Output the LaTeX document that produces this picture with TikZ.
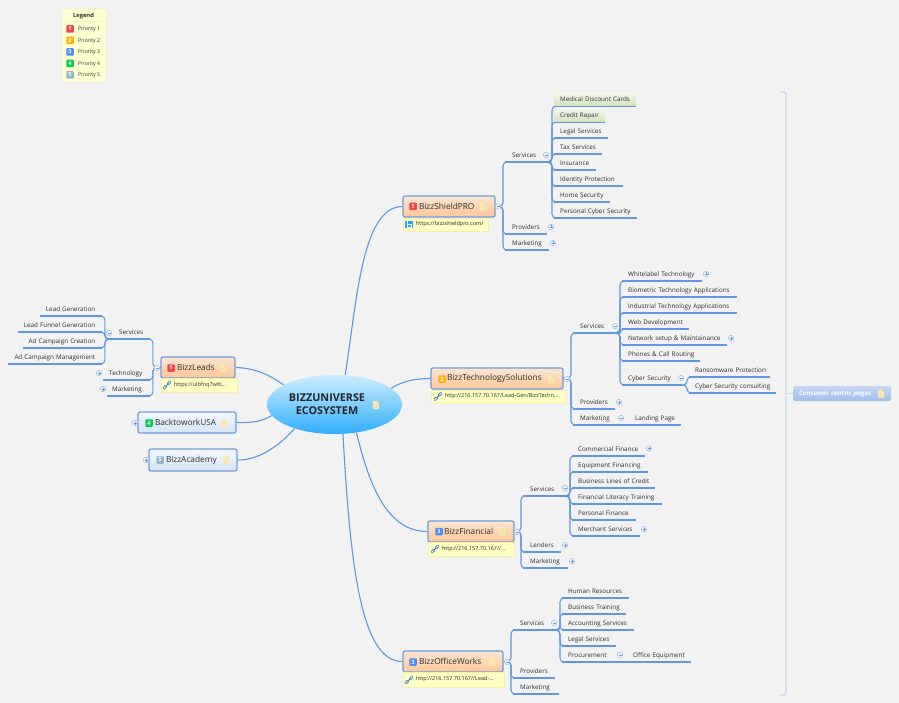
\documentclass[tikz,border=0pt]{standalone}
\usepackage{fontspec}
\setmainfont{Open Sans}
\usetikzlibrary{calc,shapes.geometric}
\pgfdeclarelayer{bg}
\pgfsetlayers{bg,main}
\definecolor{pageb}{HTML}{F2F2F2}
\definecolor{ink}{HTML}{2E2E2E}
\definecolor{wire}{HTML}{5F98DE}
\definecolor{nborder}{HTML}{6E9EDB}
\definecolor{exb}{HTML}{A9C4E8}
\definecolor{exf}{HTML}{EEF3FA}
\definecolor{exm}{HTML}{6F9BD2}
\definecolor{pone}{HTML}{F0484D}
\definecolor{ptwo}{HTML}{FDB10B}
\definecolor{pthree}{HTML}{4F8DF5}
\definecolor{pfour}{HTML}{05D050}
\definecolor{pfive}{HTML}{8FB8C6}
\definecolor{notey}{HTML}{FDEBB4}
\definecolor{noteline}{HTML}{F5DB96}
\definecolor{linkb}{HTML}{FFFFC4}
\definecolor{linkbd}{HTML}{F5EFB0}
\definecolor{legb}{HTML}{FFFFD2}
\definecolor{legbd}{HTML}{F3EFC8}
\definecolor{chain}{HTML}{3B7DC9}
\definecolor{brk}{HTML}{C9D9EA}
\tikzset{
 topic/.style={inner sep=0pt,text height=8.7pt,text depth=4.3pt,anchor=south west,font=\fontsize{6.3}{8}\selectfont,text=ink},
 uline/.style={draw=wire,line width=1.35pt},
 conn/.style={draw=wire,line width=1.1pt,rounded corners=4pt},
 corew/.style={draw=wire,line width=1.1pt},
 mainbox/.style={rectangle,rounded corners=2pt,draw=nborder,line width=1.2pt,inner sep=0pt,font=\fontsize{8.3}{10}\selectfont,text=ink},
 hot/.style={top color={rgb,255:red,251;green,229;blue,211},bottom color={rgb,255:red,253;green,198;blue,152}},
 cool/.style={top color={rgb,255:red,243;green,247;blue,252},bottom color={rgb,255:red,214;green,227;blue,245}},
 linkbox/.style={rectangle,fill=linkb,draw=linkbd,line width=.5pt,inner sep=0pt,font=\fontsize{5.5}{7}\selectfont,text=ink},
 pri/.style={rectangle,rounded corners=.8pt,minimum size=7.5pt,inner sep=0pt,text=white,font=\fontsize{5.6}{6}\bfseries\selectfont},
 expander/.style={circle,draw=exb,fill=exf,line width=.6pt,minimum size=5.5pt,inner sep=0pt},
 hilite/.style={top color={rgb,255:red,244;green,246;blue,238},bottom color={rgb,255:red,212;green,227;blue,187}},
}
\newcount\autoid
% topic, left aligned: [style]{name}{x1}{x2}{y}{text x}{text}
\newcommand\tp[7][]{\pgfmathsetmacro\padv{#6-#3}\pgfmathsetmacro\wv{#4-#3}%
 \node[topic,text width=\wv pt,align=left,#1] (#2) at (#3,#5) {\hspace*{\padv pt}\mbox{#7}};
 \begin{pgfonlayer}{bg}\draw[uline] (#2.south west) -- (#2.south east);\end{pgfonlayer}}
% topic, right aligned: {name}{x1}{x2}{y}{text right x}{text}
\newcommand\tpr[6]{\pgfmathsetmacro\padv{#3-#5}\pgfmathsetmacro\wv{#3-#2}%
 \node[topic,text width=\wv pt,align=right] (#1) at (#2,#4) {\mbox{#6}\hspace*{\padv pt}};
 \begin{pgfonlayer}{bg}\draw[uline] (#1.south west) -- (#1.south east);\end{pgfonlayer}}
\newcommand\brr[2]{\begin{pgfonlayer}{bg}\draw[conn] (#1) -| ($(#2)+(-2,0)$) -- ($(#2)+(6,0)$);\end{pgfonlayer}}
\newcommand\brl[2]{\begin{pgfonlayer}{bg}\draw[conn] (#1) -| ($(#2)+(2.5,0)$) -- ($(#2)+(-6,0)$);\end{pgfonlayer}}
\newcommand\exminus[2]{\global\advance\autoid by 1
 \node[expander] (ex\the\autoid) at (#1,#2) {};
 \draw[exm,line width=.5pt] (#1-1.5,#2) -- (#1+1.5,#2);}
\newcommand\explus[2]{\global\advance\autoid by 1
 \node[expander] (ex\the\autoid) at (#1,#2) {};
 \draw[exm,line width=.5pt] (#1-1.5,#2) -- (#1+1.5,#2) (#1,#2-1.5) -- (#1,#2+1.5);}
\newcommand\noteic[2]{\fill[notey] (#1-3,#2-4) -- (#1+1.2,#2-4) -- (#1+3,#2-2.2) -- (#1+3,#2+4) -- (#1-3,#2+4) -- cycle;
 \draw[noteline,line width=.35pt] (#1+1.2,#2-4) -- (#1+1.2,#2-2.2) -- (#1+3,#2-2.2) (#1-1.8,#2) -- (#1+1.8,#2) (#1-1.8,#2+1.8) -- (#1+1.8,#2+1.8);}
\newcommand\chainic[2]{\draw[chain,line width=2.7pt,line cap=round] (#1-3.2,#2+3.2) -- (#1-1,#2+1) (#1+1,#2-1) -- (#1+3.2,#2-3.2);
 \draw[linkb,line width=1pt,line cap=round] (#1-3.2,#2+3.2) -- (#1-1,#2+1) (#1+1,#2-1) -- (#1+3.2,#2-3.2);
 \draw[chain,line width=.9pt] (#1-1.4,#2+1.4) -- (#1+1.4,#2-1.4);}
% boxed main topic: [style]{name}{x1}{x2}{y1}{y2}{text x}{text}
\newcommand\mainb[8][]{\pgfmathsetmacro\padv{#7-#3}\pgfmathsetmacro\wv{#4-#3}\pgfmathsetmacro\hv{#6-#5}%
 \node[mainbox,#1,text width=\wv pt,minimum height=\hv pt,align=left] (#2) at ({(#3+#4)/2},{(#5+#6)/2}) {\hspace*{\padv pt}\mbox{#8}};}
\newcommand\linkb[7]{\pgfmathsetmacro\padv{#6-#2}\pgfmathsetmacro\wv{#3-#2}\pgfmathsetmacro\hv{#5-#4}%
 \node[linkbox,text width=\wv pt,minimum height=\hv pt,align=left] (#1) at ({(#2+#3)/2},{(#4+#5)/2}) {\hspace*{\padv pt}\mbox{#7}};}
\begin{document}
\begin{tikzpicture}[x=1pt,y=-1pt]
\useasboundingbox (0,0) rectangle (899,703);
\begin{pgfonlayer}{bg}
\fill[pageb] (0,0) rectangle (899,703);
\end{pgfonlayer}

% legend
\node[rectangle,rounded corners=3pt,fill=legb,draw=legbd,line width=.6pt,minimum width=44pt,minimum height=73pt,inner sep=0pt] (legend) at (84,45.5) {};
\node[inner sep=0pt,font=\fontsize{5.8}{7}\bfseries\selectfont,text=ink] (legendtitle) at (83.5,15.7) {Legend};
\coordinate (lega) at (67,21.3); \coordinate (legz) at (102,21.3);
\draw[legbd,line width=.6pt] (lega) -- (legz);
\foreach \yy/\cc/\nn in {29/pone/1,40.5/ptwo/2,52/pthree/3,63.5/pfour/4,75/pfive/5}{
 \node[pri,fill=\cc] (legic\nn) at (70,\yy) {\nn};
 \node[inner sep=0pt,anchor=west,font=\fontsize{5.2}{7}\selectfont,text=ink] (legtx\nn) at (78,\yy+.4) {Priority \nn};
}

% central topic
\node[ellipse,minimum width=135pt,minimum height=59pt,inner sep=0pt,top color={rgb,255:red,205;green,238;blue,255},bottom color={rgb,255:red,48;green,174;blue,251},align=center,font=\fontsize{10.8}{13}\bfseries\selectfont,text=black!85] (core) at (334.5,404.5) {BIZZUNIVERSE\hspace*{15pt}\\ECOSYSTEM\hspace*{15pt}};
\noteic{376}{405}

% main topics
\mainb[hot]{shield}{403}{495}{196}{217}{419}{BizzShieldPRO}
\mainb[hot]{tech}{431}{563}{368}{389}{447}{BizzTechnologySolutions}
\mainb[hot]{fin}{428}{514}{521}{542}{444}{BizzFinancial}
\mainb[hot]{office}{403}{503}{651}{672}{419}{BizzOfficeWorks}
\mainb[hot]{leads}{161}{235}{357}{378}{177}{BizzLeads}
\mainb[cool]{back}{138}{236}{412}{433}{155}{BacktoworkUSA}
\mainb[cool]{acad}{149}{237}{449}{471}{166}{BizzAcademy}

\node[pri,fill=pone] (pshield) at (413,206.5) {1}; \noteic{483}{206.5}
\node[pri,fill=ptwo] (ptech) at (442,379) {2}; \noteic{551}{379}
\node[pri,fill=pthree] (pfin) at (439,531.5) {3}; \noteic{502}{531.5}
\node[pri,fill=pthree] (poffice) at (413,662) {3}; \noteic{492}{662}
\node[pri,fill=pone] (pleads) at (171,368) {1}; \noteic{223}{368}
\node[pri,fill=pfour] (pback) at (149,423) {4}; \noteic{224}{423}
\node[pri,fill=pfive] (pacad) at (160,460) {5}; \noteic{226}{460}

% link boxes
\linkb{lshield}{403}{488}{218}{231}{416}{https://bizzshieldpro.com/}
\linkb{ltech}{431}{566}{390}{403}{445}{http://216.157.70.167/Lead-Gen/BizzTechn...}
\linkb{lfin}{428}{514}{542}{556}{442}{http://216.157.70.167//...}
\linkb{loffice}{403}{504}{672}{687}{416}{http://216.157.70.167//Lead-...}
\linkb{lleads}{161}{237}{378}{392}{174}{https://ulbfnq7wib...}
\node[rectangle,fill={rgb,255:red,28;green,167;blue,232},minimum size=7.5pt,inner sep=0pt] (blogic) at (409,224.5) {};
\draw[white,line width=.6pt] (407.5,221.5) -- (407.5,227) -- (411,227) -- (411,224.5) -- (407.5,224.5);
\chainic{438}{396.5}
\chainic{435}{549}
\chainic{409}{680}
\chainic{167}{385}

% core connectors
\begin{pgfonlayer}{bg}
\draw[corew] (core.70) .. controls (357,300) and (362,206.5) .. (shield.west);
\draw[corew] (core.16) .. controls (405,380) and (415,379) .. (tech.west);
\draw[corew] (core.-52) .. controls (368,480) and (385,531.5) .. (fin.west);
\draw[corew] (core.-74) .. controls (350,560) and (360,662) .. (office.west);
\draw[corew] (leads.east) .. controls (255,368) and (270,375) .. (core.159);
\draw[corew] (back.east) .. controls (255,423) and (262,421) .. (core.190);
\draw[corew] (acad.east) .. controls (260,460) and (280,445) .. (core.211);
\end{pgfonlayer}

% --- BizzShieldPRO
\tp{ssvc}{505}{548}{162}{512}{Services}
\tp{sprov}{505}{547}{234}{512}{Providers}
\tp{smkt}{505}{549}{250}{512}{Marketing}
\tp[hilite]{s1}{554}{636}{106}{560}{Medical Discount Cards}
\tp[hilite]{s2}{554}{605}{122}{560}{Credit Repair}
\tp{s3}{554}{608}{138}{560}{Legal Services}
\tp{s4}{554}{602}{154}{560}{Tax Services}
\tp{s5}{554}{596}{170}{560}{Insurance}
\tp{s6}{554}{623}{186}{560}{Identity Protection}
\tp{s7}{554}{610}{202}{560}{Home Security}
\tp{s8}{554}{637}{218}{560}{Personal Cyber Security}
\foreach \k in {ssvc,sprov,smkt}{\brr{shield.east}{\k.south west}}
\foreach \k in {s1,s2,s3,s4,s5,s6,s7,s8}{\brr{ssvc.south east}{\k.south west}}
\exminus{498}{206.5}\exminus{546}{155}\explus{551}{227}\explus{553}{243}

% --- BizzTechnologySolutions
\tp{tsvc}{573}{617}{333}{580}{Services}
\tp{tprov}{573}{615}{409}{580}{Providers}
\tp{tmkt}{573}{618}{425}{580}{Marketing}
\tp{tland}{628}{681}{425}{635}{Landing Page}
\tp{t1}{622}{702}{281}{628}{Whitelabel Technology}
\tp{t2}{622}{737}{297}{628}{Biometric Technology Applications}
\tp{t3}{622}{737}{313}{628}{Industrial Technology Applications}
\tp{t4}{622}{689}{329}{628}{Web Development}
\tp{t5}{622}{727}{345}{628}{Network setup \& Maintainance}
\tp{t6}{622}{700}{361}{628}{Phones \& Call Routing}
\tp{t7}{622}{682}{385}{628}{Cyber Security}
\tp{t8}{689}{770}{377}{695}{Ransomware Protection}
\tp{t9}{689}{776}{393}{695}{Cyber Security consulting}
\foreach \k in {tsvc,tprov,tmkt}{\brr{tech.east}{\k.south west}}
\foreach \k in {t1,t2,t3,t4,t5,t6,t7}{\brr{tsvc.south east}{\k.south west}}
\foreach \k in {t8,t9}{\brr{t7.south east}{\k.south west}}
\begin{pgfonlayer}{bg}\draw[uline] (tmkt.south east) -- (tland.south west);\end{pgfonlayer}
\exminus{567}{379}\exminus{615}{326}\explus{706}{274}\explus{731}{338}\exminus{681}{378}\explus{619}{402}\exminus{621}{418}

% --- BizzFinancial
\tp{fsvc}{523}{568}{496}{530}{Services}
\tp{flend}{523}{561}{552}{530}{Lenders}
\tp{fmkt}{523}{568}{568}{530}{Marketing}
\tp{f1}{572}{645}{456}{578}{Commercial Finance}
\tp{f2}{572}{648}{472}{578}{Equipment Financing}
\tp{f3}{572}{655}{488}{578}{Business Lines of Credit}
\tp{f4}{572}{662}{504}{578}{Financial Literacy Training}
\tp{f5}{572}{636}{520}{578}{Personal Finance}
\tp{f6}{572}{640}{536}{578}{Merchant Services}
\foreach \k in {fsvc,flend,fmkt}{\brr{fin.east}{\k.south west}}
\foreach \k in {f1,f2,f3,f4,f5,f6}{\brr{fsvc.south east}{\k.south west}}
\exminus{517}{532}\exminus{565}{488}\explus{649}{448.5}\explus{644}{529}\explus{565}{545}\explus{572}{561}

% --- BizzOfficeWorks
\tp{osvc}{513}{557}{630}{520}{Services}
\tp{oprov}{513}{555}{678}{520}{Providers}
\tp{omkt}{513}{559}{694}{520}{Marketing}
\tp{o1}{562}{629}{598}{568}{Human Resources}
\tp{o2}{562}{626}{614}{568}{Business Training}
\tp{o3}{562}{634}{630}{568}{Accounting Services}
\tp{o4}{562}{616}{646}{568}{Legal Services}
\tp{o5}{562}{615}{662}{568}{Procurement}
\tp{o6}{625}{691}{662}{633}{Office Equipment}
\foreach \k in {osvc,oprov,omkt}{\brr{office.east}{\k.south west}}
\foreach \k in {o1,o2,o3,o4,o5}{\brr{osvc.south east}{\k.south west}}
\begin{pgfonlayer}{bg}\draw[uline] (o5.south east) -- (o6.south west);\end{pgfonlayer}
\exminus{507}{662}\exminus{554}{623}\exminus{620}{655}

% --- BizzLeads
\tp{lsvc}{113}{150}{339}{119}{Services}
\tp{ltec}{103}{150}{380}{109}{Technology}
\tp{lmkt}{107}{150}{396}{112}{Marketing}
\tpr{l1}{40}{102}{316}{95}{Lead Generation}
\tpr{l2}{18}{102}{332}{95}{Lead Funnel Generation}
\tpr{l3}{23}{102}{348}{95}{Ad Campaign Creation}
\tpr{l4}{8}{102}{364}{95}{Ad Campaign Management}
\foreach \k in {lsvc,ltec,lmkt}{\brl{leads.west}{\k.south east}}
\foreach \k in {l1,l2,l3,l4}{\brl{lsvc.south west}{\k.south east}}
\exminus{157}{368}\exminus{109}{333}\explus{99}{373}\explus{103}{389}
\explus{135}{423}\explus{146}{460}

% --- consumer centric pages
\node[rectangle,rounded corners=2pt,inner sep=0pt,minimum height=15pt,top color={rgb,255:red,196;green,216;blue,242},bottom color={rgb,255:red,160;green,192;blue,234},align=left,text width=98pt,font=\fontsize{6.3}{8}\bfseries\itshape\selectfont,text=white] (consumer) at (842,393.5) {\hspace*{6pt}\mbox{Consumer centric pages}};
\noteic{881}{393.5}
\coordinate (brtop) at (780,92);
\coordinate (brbot) at (780,695);
\begin{pgfonlayer}{bg}
\draw[brk,line width=1.3pt,rounded corners=2.5pt] (brtop) -- (786,92) -- (786,695) -- (brbot);
\draw[brk,line width=1pt] (consumer.west) -- (consumer.west -| 786,0);
\end{pgfonlayer}
\end{tikzpicture}
\end{document}
